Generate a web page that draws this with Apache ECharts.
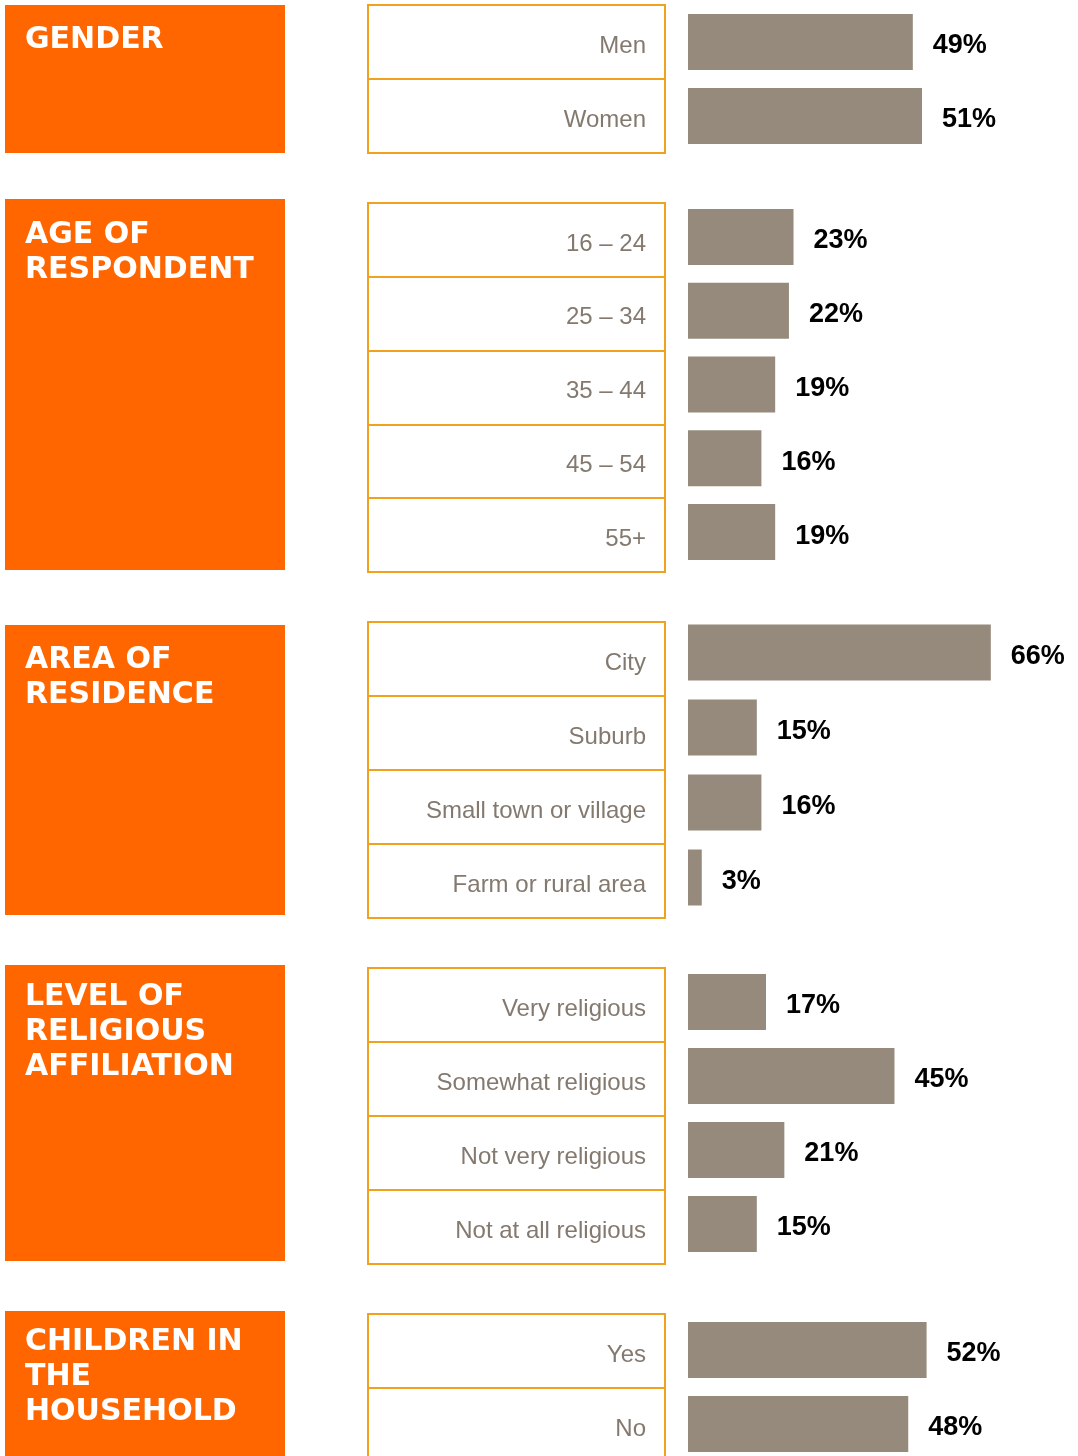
<!DOCTYPE html>
<html>
<head>
<meta charset="utf-8">
<script src="https://cdn.jsdelivr.net/npm/echarts@6/dist/echarts.min.js"></script>
<style>
  html, body { margin: 0; padding: 0; background: #fff; }
  #chart { width: 1078px; height: 1456px; }
</style>
</head>
<body>
<div id="chart"></div>
<script>
// section titles
var sectionTitles = ['GENDER', 'AGE OF\nRESPONDENT', 'AREA OF\nRESIDENCE', 'LEVEL OF\nRELIGIOUS\nAFFILIATION', 'CHILDREN IN\nTHE\nHOUSEHOLD'];

// categories + values (percent)
var genderCats = ['Men', 'Women'];
var genderVals = [49, 51];
var ageCats = ['16 – 24', '25 – 34', '35 – 44', '45 – 54', '55+'];
var ageVals = [23, 22, 19, 16, 19];
var areaCats = ['City', 'Suburb', 'Small town or village', 'Farm or rural area'];
var areaVals = [66, 15, 16, 3];
var religionCats = ['Very religious', 'Somewhat religious', 'Not very religious', 'Not at all religious'];
var religionVals = [17, 45, 21, 15];
var childrenCats = ['Yes', 'No'];
var childrenVals = [52, 48];

var sections = [
    { cats: genderCats, vals: genderVals },
    { cats: ageCats, vals: ageVals },
    { cats: areaCats, vals: areaVals },
    { cats: religionCats, vals: religionVals },
    { cats: childrenCats, vals: childrenVals }
];

// layout (pixels)
var boxes = [[5, 148], [199, 371], [625, 290], [965, 296], [1311, 160]];
var titleTops = [23, 218, 643, 980, 1325];
var tableGrids = [[5, 148], [203, 369], [622, 296], [968, 296], [1314, 148]];
var barGrids = [[5, 148], [200, 369], [615, 300], [965, 296], [1313, 148]];
var labelShift = 4;

var ORANGE = '#FF6600';
var LINE = '#F0A21E';
var BAR = '#968A7D';
var labelFont = "'Liberation Sans', sans-serif";

var option = {
    backgroundColor: '#fff',
    animation: false,
    title: [],
    graphic: [],
    grid: [],
    xAxis: [],
    yAxis: [],
    series: []
};

for (var i = 0; i < sections.length; i++) {
    var s = sections[i];
    var g = 3 * i;

    option.graphic.push({
        type: 'rect',
        shape: { x: 5, y: boxes[i][0], width: 280, height: boxes[i][1] },
        style: { fill: ORANGE },
        z: 0
    });

    option.title.push({
        text: sectionTitles[i],
        left: 25,
        top: titleTops[i],
        padding: 0,
        textStyle: {
            color: '#fff',
            fontFamily: 'DejaVu Sans',
            fontWeight: 'bold',
            fontSize: 30,
            lineHeight: 35
        }
    });

    // table cells
    option.grid.push({
        left: 368, width: 297,
        top: tableGrids[i][0], height: tableGrids[i][1],
        outerBoundsMode: 'none',
        show: true, borderColor: LINE, borderWidth: 2, backgroundColor: '#fff'
    });
    option.xAxis.push({ type: 'value', gridIndex: g, show: false, min: 0, max: 1 });
    option.yAxis.push({
        type: 'category',
        gridIndex: g,
        data: s.cats,
        inverse: true,
        axisLine: { show: false },
        axisTick: { show: false },
        axisLabel: { show: false },
        splitLine: { show: true, lineStyle: { color: LINE, width: 2 } }
    });

    // table labels (a few px lower than the cell centres)
    option.grid.push({
        left: 368, width: 297,
        top: tableGrids[i][0] + labelShift, height: tableGrids[i][1],
        outerBoundsMode: 'none'
    });
    option.xAxis.push({ type: 'value', gridIndex: g + 1, show: false, min: 0, max: 1 });
    option.yAxis.push({
        type: 'category',
        gridIndex: g + 1,
        data: s.cats,
        inverse: true,
        position: 'right',
        axisLine: { show: false },
        axisTick: { show: false },
        splitLine: { show: false },
        axisLabel: {
            inside: true,
            align: 'right',
            margin: 19,
            color: '#84796F',
            fontFamily: labelFont,
            fontSize: 24
        },
        z: 5
    });

    // bars
    option.grid.push({
        left: 688, width: 390,
        top: barGrids[i][0], height: barGrids[i][1],
        outerBoundsMode: 'none'
    });
    option.xAxis.push({ type: 'value', gridIndex: g + 2, show: false, min: 0, max: 85 });
    option.yAxis.push({
        type: 'category',
        gridIndex: g + 2,
        data: s.cats,
        inverse: true,
        show: false
    });
    option.series.push({
        type: 'bar',
        xAxisIndex: g + 2,
        yAxisIndex: g + 2,
        data: s.vals,
        barWidth: 56,
        itemStyle: { color: BAR },
        label: {
            show: true,
            position: 'right',
            distance: 20,
            offset: [0, 4],
            formatter: '{c}%',
            color: '#000',
            fontFamily: labelFont,
            fontWeight: 'bold',
            fontSize: 27
        }
    });
}

var myChart = echarts.init(document.getElementById('chart'));
myChart.setOption(option);
</script>
</body>
</html>
